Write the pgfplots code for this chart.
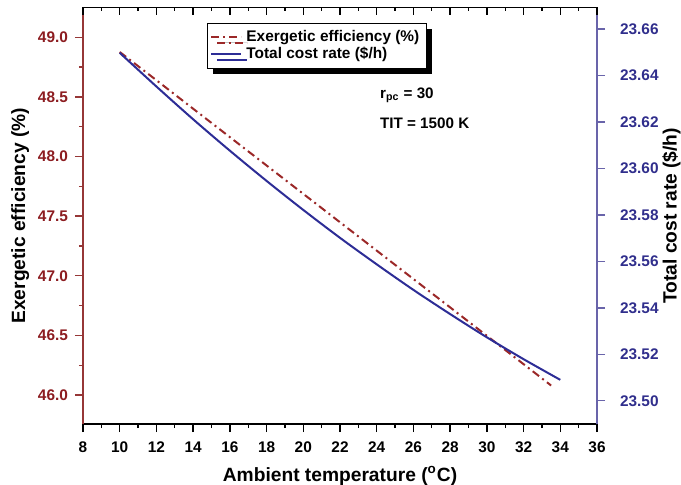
\documentclass[border=0pt]{standalone}
\usepackage{pgfplots}
\pgfplotsset{compat=1.18}
\usepackage{fontspec}
\setmainfont{Liberation Sans}
\usetikzlibrary{shadows}
\definecolor{exred}{RGB}{140,28,32}
\definecolor{exredline}{RGB}{155,40,40}
\definecolor{cblue}{RGB}{48,46,140}
\definecolor{cblueline}{RGB}{45,45,150}
\definecolor{raxis}{RGB}{105,100,170}
\definecolor{laxis}{RGB}{150,55,55}
\pgfplotstableread{
x y
10 48.877
12 48.640
14 48.401
16 48.163
18 47.925
20 47.687
22 47.449
24 47.211
26 46.973
28 46.735
30 46.497
32 46.259
33.5 46.080
}\exergy
\pgfplotstableread{
x y
10 23.6497
12 23.6352
14 23.6211
16 23.6076
18 23.5946
20 23.5821
22 23.5701
24 23.5587
26 23.5477
28 23.5373
30 23.5273
32 23.5179
34 23.5090
}\cost
\begin{document}
\begin{tikzpicture}
\pgfplotsset{
  every axis/.append style={
    scale only axis, width=257pt, height=208.25pt,
    xmin=8, xmax=36,
    tick align=outside,
    axis line style={-, line width=0.9pt},
    major tick length=4pt, minor tick length=2pt,
    every tick/.style={line width=0.7pt},
    /pgf/number format/assume math mode=true,
    ticklabel style={font=\fontsize{7.7}{9}\selectfont\bfseries},
    label style={font=\fontsize{9.6}{11}\selectfont\bfseries},
  }
}
\begin{axis}[
  name=ax,
  axis y line*=left, axis x line*=bottom,
  ymin=45.757, ymax=49.25,
  ytick={46,46.5,...,49}, minor y tick num=1,
  xtick={8,10,...,36}, minor x tick num=1,
  yticklabel style={color=exred, /pgf/number format/.cd, fixed, fixed zerofill, precision=1},
  xticklabel style={yshift=-1.5pt},
  y axis line style={color=laxis},
  x axis line style={color=black},
  ytick style={color=laxis},
  xtick style={color=black},
  xlabel={Ambient temperature (\textsuperscript{o}C)},
  ylabel={Exergetic efficiency (\%)},
  xlabel style={yshift=0pt},
  ylabel style={yshift=-2.5pt},
]
\addplot[exredline, line width=1pt, dash pattern=on 4pt off 2pt on 1pt off 2pt] table {\exergy};
\coordinate (O) at (rel axis cs:0,0);
\coordinate (T) at (rel axis cs:1,1);
\node[anchor=west, font=\fontsize{7.6}{9}\selectfont\bfseries] at (axis cs:23.8,48.51) {r\textsubscript{pc} = 30};
\node[anchor=west, font=\fontsize{7.6}{9}\selectfont\bfseries] at (axis cs:23.8,48.28) {TIT = 1500 K};
\end{axis}
\begin{axis}[
  axis y line*=right, axis x line=none,
  ymin=23.490, ymax=23.6692,
  ytick={23.50,23.52,...,23.661}, minor y tick num=1,
  yticklabel style={color=cblue, xshift=4pt, /pgf/number format/.cd, fixed, fixed zerofill, precision=2},
  y axis line style={color=raxis},
  ytick style={color=raxis},
  ylabel={Total cost rate (\$/h)},
  ylabel style={color=black, yshift=5pt},
  legend style={at={(0.455,0.908)}, anchor=center, draw=black, line width=0.5pt, fill=white,
    font=\fontsize{7.7}{9}\selectfont\bfseries, inner sep=1.5pt, row sep=-2.5pt,
    drop shadow={shadow xshift=2.8pt, shadow yshift=-2.8pt, fill=black, opacity=1}},
  legend cell align=left,
  legend image code/.code={\draw[#1] (0pt,0pt) -- (11pt,0pt); \path (0pt,0pt) -- (15pt,0pt);},
]
\addlegendimage{exredline, line width=1pt, dash pattern=on 4pt off 2pt on 1pt off 2pt}
\addlegendentry{Exergetic efficiency (\%)}
\addplot[cblueline, line width=1pt, smooth] table {\cost};
\addlegendentry{Total cost rate (\$/h)}
\end{axis}
\begin{axis}[
  axis x line*=top, axis y line=none,
  ymin=0, ymax=1,
  tick align=inside,
  xtick={8,10,...,36}, minor x tick num=1,
  xticklabels={},
  x axis line style={color=black},
]
\end{axis}
\pgfresetboundingbox
\path ([shift={(-41.5pt,-30pt)}]O) rectangle ([shift={(42pt,3.75pt)}]T);
\end{tikzpicture}
\end{document}
